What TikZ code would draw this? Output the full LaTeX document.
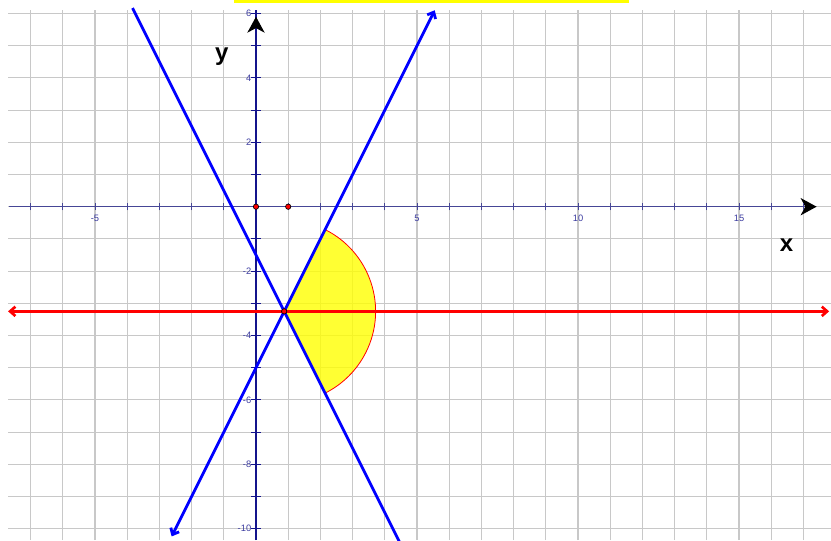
\documentclass[tikz,border=0pt]{standalone}
\usepackage{fontspec}
\setmainfont{Liberation Sans}
\usetikzlibrary{arrows.meta}
\definecolor{gridgray}{RGB}{200,200,200}
\definecolor{axisx}{RGB}{70,70,150}
\definecolor{axisy}{RGB}{20,20,140}
\definecolor{ticklab}{RGB}{60,60,160}
\definecolor{lineblue}{RGB}{0,0,255}
\definecolor{linered}{RGB}{255,0,0}
\definecolor{sectoryellow}{RGB}{255,255,0}
\begin{document}
\begin{tikzpicture}[x=24.15pt,y=24.15pt,
  gridline/.style={gridgray,line width=0.8pt},
  xaxisline/.style={axisx,line width=0.9pt},
  yaxisline/.style={axisy,line width=0.8pt},
  axistip/.style={-{Stealth[length=12pt,width=13pt,inset=3.5pt,black]}},
  bluel/.style={lineblue,line width=2.1pt},
  redl/.style={linered,line width=2pt},
  lntip/.style={{Straight Barb[length=4pt,width=7pt]}-{Straight Barb[length=4pt,width=7pt]}},
  ptdot/.style={circle,fill=linered,draw=black,line width=0.5pt,inner sep=0pt,minimum size=4pt},
  ticklabel/.style={text=ticklab,font=\fontsize{7}{8}\selectfont,inner sep=0.5pt},
  axlabel/.style={font=\fontsize{18}{20}\selectfont\bfseries,text=black,inner sep=0pt}]
\useasboundingbox (-7.950,-10.351) rectangle (17.857,6.419);
\begin{scope}
\clip (-7.950,-10.351) rectangle (17.857,6.419);
% grid
\foreach \i in {-7,...,17} \draw[gridline] (\i,-10.351) -- (\i,6.108);
\foreach \j in {-10,...,6} \draw[gridline] (-7.70,\j) -- (17.857,\j);
% top yellow bar
\fill[sectoryellow] (-0.683,6.326) rectangle (11.584,6.419);
% sector
\coordinate (P) at (0.875,-3.25);
\fill[sectoryellow,fill opacity=0.8] (P) -- ++(63.435:2.84) arc[start angle=63.435,end angle=-63.435,radius=2.84] -- cycle;
\draw[linered,line width=0.6pt] (P) ++(63.435:2.84) arc[start angle=63.435,end angle=-63.435,radius=2.84];
% axes
\coordinate (xs) at (-7.67,0);
\coordinate (xe) at (17.41,0);
\coordinate (ys) at (0,-10.351);
\coordinate (ye) at (0,6.108);
\coordinate (yt0) at (0,5.3);
\coordinate (yt1) at (0,5.9);
\draw[xaxisline,axistip] (xs) -- (xe);
\draw[yaxisline] (ys) -- (ye);
\draw[yaxisline,axistip] (yt0) -- (yt1);
\foreach \i in {-7,...,-1,1,2,...,17} \draw[xaxisline,line width=0.7pt] (\i,-0.115) -- (\i,0.115);
\foreach \j in {-10,...,-1,1,2,...,6} \draw[yaxisline,line width=0.7pt] (-0.14,\j) -- (0.14,\j);
% lines
\coordinate (a1) at (-3.835,6.17);
\coordinate (a2) at (4.6,-10.7);
\draw[bluel] (a1) -- (a2);
\coordinate (b1) at (-2.62,-10.24);
\coordinate (b2) at (5.55,6.10);
\draw[bluel,lntip] (b1) -- (b2);
\coordinate (r1) at (-7.70,-3.25);
\coordinate (r2) at (17.80,-3.25);
\draw[redl,lntip] (r1) -- (r2);
% points
\node[ptdot] (O) at (0,0) {};
\node[ptdot] (E) at (1,0) {};
\node[ptdot] (I) at (P) {};
\end{scope}
% tick labels
\foreach \v in {-5,5,10,15} \node[ticklabel] (xl\v) at (\v,-0.36) {\v};
\foreach \v in {6,4,2,-2,-4,-6,-8,-10} \node[ticklabel,anchor=east] (yl\v) at (-0.12,\v) {\v};
% axis labels
\node[axlabel] (xlab) at (16.48,-1.18) {x};
\node[axlabel] (ylab) at (-1.06,4.65) {y};
\end{tikzpicture}
\end{document}
